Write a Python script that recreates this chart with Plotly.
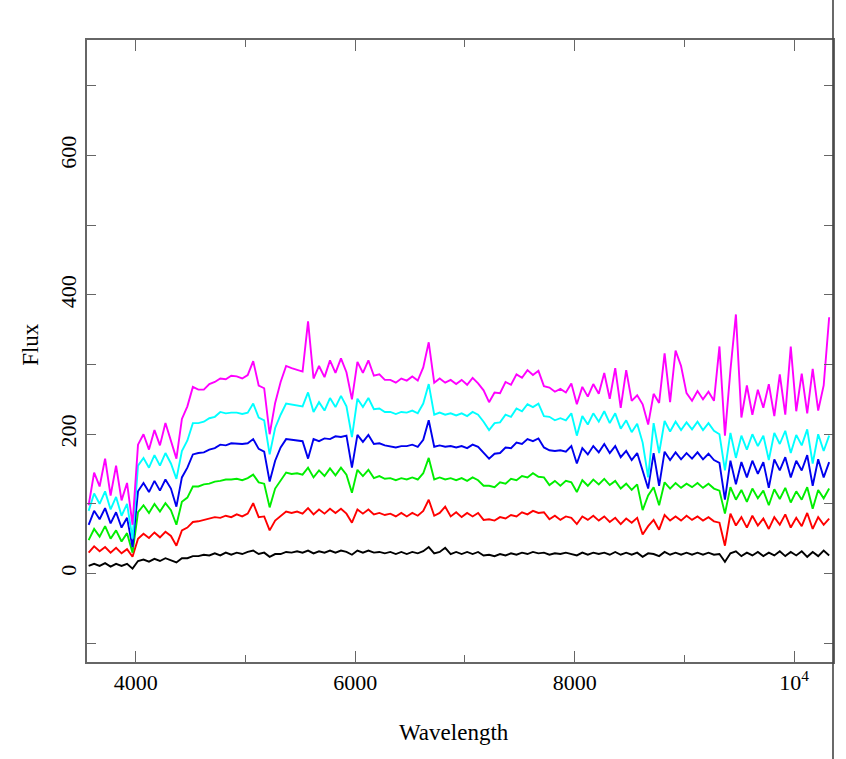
import plotly.graph_objects as go

# wavelength grid (Angstrom), 50 A steps
wavelength = list(range(3570, 10321, 50))

flux_black = [
    11, 14, 11, 15, 10, 14, 11, 14, 7, 18,
    20, 17, 21, 18, 22, 19, 16, 22, 22, 25,
    25, 27, 26, 29, 26, 30, 27, 30, 28, 31,
    33, 28, 30, 24, 28, 28, 31, 30, 32, 30,
    33, 29, 32, 30, 33, 30, 33, 31, 27, 33,
    30, 33, 30, 31, 29, 31, 28, 31, 28, 31,
    29, 32, 38, 29, 31, 37, 28, 31, 28, 31,
    28, 31, 26, 27, 25, 28, 26, 29, 27, 30,
    28, 31, 29, 30, 27, 29, 28, 30, 28, 26,
    30, 27, 30, 28, 30, 27, 31, 27, 30, 27,
    30, 24, 29, 28, 25, 31, 27, 30, 27, 30,
    27, 30, 27, 30, 27, 28, 17, 29, 32, 25,
    30, 26, 31, 25, 30, 26, 32, 25, 31, 26,
    32, 24, 31, 25, 33, 26,
]

flux_red = [
    30, 39, 32, 38, 30, 37, 29, 35, 24, 50,
    57, 51, 59, 52, 60, 54, 40, 62, 66, 74,
    75, 77, 78, 81, 80, 83, 81, 85, 82, 86,
    101, 81, 82, 62, 76, 82, 89, 87, 89, 86,
    94, 85, 92, 86, 93, 87, 93, 86, 73, 92,
    86, 92, 85, 87, 84, 86, 82, 87, 82, 87,
    83, 90, 106, 83, 87, 96, 82, 88, 81, 87,
    82, 87, 77, 78, 76, 81, 79, 84, 82, 88,
    85, 90, 87, 88, 78, 83, 77, 82, 80, 71,
    82, 77, 83, 76, 82, 74, 80, 71, 79, 73,
    80, 56, 68, 77, 63, 84, 76, 82, 76, 83,
    77, 82, 76, 81, 75, 73, 40, 86, 69, 81,
    66, 83, 69, 79, 64, 81, 70, 85, 66, 80,
    68, 87, 64, 81, 70, 79,
]

flux_green = [
    48, 64, 53, 68, 50, 62, 46, 58, 30, 88,
    98, 87, 100, 89, 101, 91, 70, 103, 109, 125,
    125, 128, 129, 132, 133, 135, 135, 136, 134, 137,
    142, 131, 129, 95, 122, 134, 145, 143, 144, 142,
    152, 138, 148, 140, 151, 141, 152, 142, 116, 149,
    140, 149, 137, 140, 136, 137, 134, 137, 135, 138,
    135, 144, 166, 135, 138, 135, 137, 134, 137, 133,
    138, 134, 126, 126, 124, 131, 129, 136, 134, 140,
    138, 144, 139, 138, 127, 133, 126, 133, 131, 117,
    134, 126, 135, 128, 136, 127, 133, 122, 129, 120,
    128, 91, 112, 124, 98, 131, 122, 130, 123, 129,
    124, 130, 123, 129, 122, 119, 86, 124, 106, 120,
    103, 122, 108, 119, 98, 121, 107, 123, 102, 118,
    106, 124, 93, 120, 108, 122,
]

flux_blue = [
    70, 90, 78, 94, 72, 88, 66, 80, 38, 118,
    130, 117, 133, 119, 135, 122, 96, 138, 152, 171,
    173, 174, 178, 180, 185, 184, 187, 186, 186, 187,
    193, 179, 175, 132, 162, 181, 193, 192, 191, 190,
    165, 193, 190, 194, 193, 197, 196, 198, 152, 199,
    189, 199, 186, 187, 184, 183, 181, 183, 183, 185,
    182, 192, 220, 182, 184, 182, 183, 181, 183, 180,
    185, 182, 174, 165, 172, 173, 181, 180, 188, 186,
    193, 190, 194, 181, 177, 176, 177, 175, 183, 158,
    180, 171, 183, 174, 186, 173, 183, 167, 176, 163,
    173, 148, 122, 173, 126, 175, 163, 174, 164, 173,
    165, 174, 164, 172, 163, 159, 106, 162, 128, 160,
    138, 162, 143, 160, 123, 164, 148, 167, 138, 162,
    148, 170, 126, 164, 138, 160,
]

flux_cyan = [
    90, 115, 100, 118, 92, 110, 83, 100, 50, 155,
    166, 152, 170, 155, 173, 158, 136, 176, 191, 216,
    216, 218, 223, 225, 232, 230, 231, 231, 229, 231,
    244, 224, 220, 171, 209, 228, 244, 243, 242, 240,
    260, 232, 246, 234, 252, 239, 255, 240, 196, 251,
    239, 252, 236, 237, 232, 232, 229, 232, 231, 234,
    230, 244, 272, 228, 231, 228, 230, 227, 230, 226,
    232, 228, 218, 206, 216, 217, 228, 225, 237, 233,
    243, 239, 244, 226, 225, 220, 223, 220, 230, 198,
    226, 214, 230, 218, 233, 216, 230, 208, 220, 203,
    215, 188, 138, 216, 173, 219, 204, 218, 206, 217,
    207, 218, 206, 216, 205, 200, 148, 202, 166, 198,
    178, 200, 183, 198, 163, 202, 186, 205, 173, 199,
    184, 207, 158, 200, 176, 198,
]

flux_magenta = [
    98, 145, 125, 165, 112, 155, 105, 130, 70, 185,
    200, 178, 206, 184, 216, 190, 165, 222, 240, 268,
    264, 264, 272, 275, 280, 279, 284, 283, 280, 285,
    305, 270, 266, 200, 245, 275, 298, 295, 292, 290,
    362, 280, 298, 282, 306, 288, 309, 289, 250, 304,
    288, 306, 284, 286, 278, 278, 274, 280, 277, 283,
    277, 296, 332, 274, 280, 274, 278, 272, 278, 271,
    281, 273, 263, 246, 260, 259, 275, 271, 286, 281,
    292, 285, 291, 269, 267, 261, 265, 260, 273, 243,
    268, 254, 272, 258, 288, 251, 295, 238, 292, 248,
    256, 243, 214, 258, 245, 316, 246, 320, 298, 259,
    248, 262, 250, 261, 248, 326, 198, 292, 372, 224,
    270, 228, 264, 238, 272, 226, 286, 228, 326, 233,
    287, 230, 294, 234, 270, 368,
]

series = [
    ("black", flux_black, "#000000"),
    ("red", flux_red, "#ff0000"),
    ("green", flux_green, "#00ee00"),
    ("blue", flux_blue, "#0000ee"),
    ("cyan", flux_cyan, "#00ffff"),
    ("magenta", flux_magenta, "#ff00ff"),
]

x_tickvals = [4000, 6000, 8000, 10000]
x_ticktext = ["4000", "6000", "8000", "10<sup>4</sup>"]
x_minor = [5000, 7000, 9000]
y_tickvals = [0, 200, 400, 600]
y_ticktext = ["0", "200", "400", "600"]
y_minor = [-100, 100, 300, 500, 700]

fig = go.Figure()
for name, vals, col in series:
    fig.add_trace(go.Scatter(x=wavelength, y=vals, mode="lines", name=name,
                             line=dict(color=col, width=1.9), showlegend=False))

font_family = "Liberation Serif, Times New Roman, serif"
axis_col = "#666666"

fig.update_layout(
    width=846, height=759,
    margin=dict(l=87, r=11, t=40, b=97),
    paper_bgcolor="white", plot_bgcolor="white",
    font=dict(family=font_family, size=22, color="black"),
    xaxis=dict(range=[3555, 10355], tickmode="array", tickvals=x_tickvals, ticktext=x_ticktext,
               ticks="inside", ticklen=11, tickwidth=1.3, tickcolor=axis_col,
               showline=True, linecolor=axis_col, linewidth=1.6, mirror="ticks",
               showgrid=False, zeroline=False,
               minor=dict(tickvals=x_minor, ticks="inside", ticklen=7, tickwidth=1.3, tickcolor=axis_col, showgrid=False),
               tickfont=dict(family=font_family, size=22, color="black")),
    yaxis=dict(range=[-127, 766], tickmode="array", tickvals=y_tickvals, ticktext=y_ticktext,
               ticks="inside", ticklen=9, tickwidth=1.3, tickcolor=axis_col, tickangle=-90,
               showline=True, linecolor=axis_col, linewidth=1.6, mirror="ticks",
               showgrid=False, zeroline=False,
               minor=dict(tickvals=y_minor, ticks="inside", ticklen=9, tickwidth=1.3, tickcolor=axis_col, showgrid=False),
               tickfont=dict(family=font_family, size=22, color="black")),
)

fig.add_annotation(text="Flux", xref="paper", yref="paper", x=-0.075, y=0.51,
                   textangle=-90, showarrow=False, xanchor="center", yanchor="middle",
                   font=dict(family=font_family, size=23, color="black"))
fig.add_annotation(text="Wavelength", xref="paper", yref="paper", x=0.492, y=-0.113,
                   showarrow=False, xanchor="center", yanchor="middle",
                   font=dict(family=font_family, size=23, color="black"))

# full-height vertical rule at the right edge seen in the image
fig.add_shape(type="line", xref="paper", yref="paper", x0=1.0, x1=1.0, y0=-0.16, y1=1.07,
              line=dict(color="#444444", width=1.6))

fig.write_html("out.html", config={"displayModeBar": False},
               post_script="document.body.style.margin='0';")
